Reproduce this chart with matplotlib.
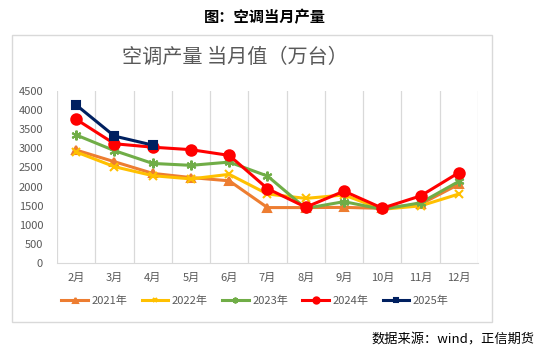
import matplotlib.pyplot as plt
from matplotlib.patches import Rectangle

plt.rcParams['font.family'] = ['Noto Sans CJK SC', 'DejaVu Sans']

months = ['2月', '3月', '4月', '5月', '6月', '7月', '8月', '9月', '10月', '11月', '12月']
y2021 = [2955, 2650, 2345, 2235, 2150, 1450, 1450, 1455, 1430, 1540, 2060]
y2022 = [2905, 2520, 2285, 2200, 2320, 1805, 1690, 1780, 1405, 1495, 1805]
y2023 = [3350, 2940, 2605, 2555, 2640, 2275, 1430, 1605, 1405, 1575, 2135]
y2024 = [3760, 3120, 3030, 2965, 2815, 1945, 1460, 1880, 1435, 1755, 2365]
y2025 = [4135, 3320, 3085]

# excel style "star" marker -> 6-arm asterisk
star = (6, 2, 0)
series = [
    ('2021年', y2021, '#ED7D31', '^', 6),
    ('2022年', y2022, '#FFC000', 'x', 6),
    ('2023年', y2023, '#70AD47', star, 7),
    ('2024年', y2024, '#FF0000', 'o', 7.5),
    ('2025年', y2025, '#002060', 's', 5.5),
]

fig = plt.figure(figsize=(5.39, 3.58), dpi=100)

# outer chart border
fig.patches.append(Rectangle((12 / 539, 1 - 322 / 358), 480 / 539, 287 / 358,
                             transform=fig.transFigure, fill=False,
                             edgecolor='#D9D9D9', linewidth=1))

ax = fig.add_axes([57 / 539, 1 - 263 / 358, 421 / 539, 172 / 358])

x = list(range(len(months)))
for name, vals, color, marker, ms in series:
    ax.plot(x[:len(vals)], vals, color=color, marker=marker, markersize=ms,
            linewidth=2.2, label=name, markeredgewidth=1.5)

ax.set_xlim(-0.5, len(months) - 0.5)
ax.set_ylim(0, 4500)
ax.set_yticks(range(0, 4501, 500))
ax.set_xticks(x)
ax.set_xticklabels(months)
for gx in [i + 0.5 for i in range(-1, len(months))]:
    ax.axvline(gx, color='#D9D9D9', linewidth=0.9, zorder=0)

for side in ['top', 'right', 'left']:
    ax.spines[side].set_visible(False)
ax.spines['bottom'].set_color('#D9D9D9')
ax.tick_params(axis='both', length=0, colors='#595959', labelsize=8)
ax.tick_params(axis='x', pad=7)
ax.tick_params(axis='y', pad=10)

fig.legend(loc='center', bbox_to_anchor=(255 / 539, 1 - 301 / 358), ncol=5,
           frameon=False, fontsize=8, labelcolor='#595959', markerscale=0.6,
           handlelength=2.4, columnspacing=1.3, handletextpad=0.3)

fig.text(235 / 539, 1 - 57 / 358, '空调产量 当月值（万台）', ha='center', va='center',
         fontsize=14.5, color='#595959')
fig.text(265 / 539, 1 - 17 / 358, '图：空调当月产量', ha='center', va='center',
         fontsize=11, fontweight='bold', color='black')
fig.text(535 / 539, 1 - 340 / 358, '数据来源：wind，正信期货', ha='right', va='center',
         fontsize=9.5, color='black')

fig.savefig('out.png', dpi=100)
